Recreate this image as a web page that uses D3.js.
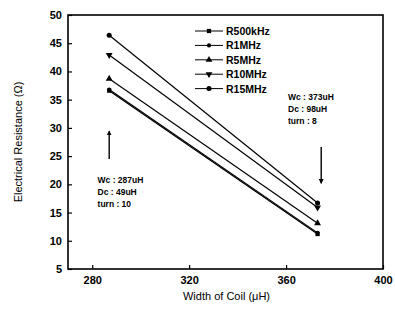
<!DOCTYPE html>
<html>
<head>
<meta charset="utf-8">
<script src="https://cdn.jsdelivr.net/npm/d3@7"></script>
<style>
  body { margin: 0; background: #fff; }
  text { font-family: "Liberation Sans", Arial, sans-serif; fill: #000; }
  .narrow { font-family: "Liberation Sans Narrow", "Arial Narrow", "Liberation Sans", sans-serif; }
</style>
</head>
<body>
<div id="chart"></div>
<script>
// coil widths (uH) and resistance per frequency (ohm)
const widths = [287, 373];
const seriesNames = ['R500kHz', 'R1MHz', 'R5MHz', 'R10MHz', 'R15MHz'];
const r500k = [36.6, 11.2];
const r1M = [36.8, 11.4];
const r5M = [38.7, 13.1];
const r10M = [42.9, 15.9];
const r15M = [46.4, 16.7];
const markers = ['square', 'circle', 'triangle', 'triangleDown', 'circleBig'];
const xTicks = [280, 320, 360, 400];
const yTicks = [5, 10, 15, 20, 25, 30, 35, 40, 45, 50];
const noteLeft = ['Wc : 287uH', 'Dc : 49uH', 'turn : 10'];
const noteRight = ['Wc : 373uH', 'Dc : 98uH', 'turn : 8'];

const W = 395, H = 311;
const m = {l: 68, r: 12, t: 15, b: 42};

const svg = d3.select('#chart').append('svg')
    .attr('width', W).attr('height', H);

const x = d3.scaleLinear().domain([270, 400]).range([m.l, W - m.r]);
const y = d3.scaleLinear().domain([5, 50]).range([H - m.b, m.t]);

const g = svg.append('g');

// frame
g.append('rect')
    .attr('x', m.l).attr('y', m.t)
    .attr('width', W - m.r - m.l).attr('height', H - m.b - m.t)
    .attr('fill', 'none').attr('stroke', '#000').attr('stroke-width', 1.6);

// axes with inward ticks
const xAxis = g.append('g').attr('transform', `translate(0,${H - m.b})`)
    .call(d3.axisBottom(x).tickValues(xTicks).tickSizeInner(-4).tickSizeOuter(0).tickPadding(7));
const yAxis = g.append('g').attr('transform', `translate(${m.l},0)`)
    .call(d3.axisLeft(y).tickValues(yTicks).tickSizeInner(-4).tickSizeOuter(0).tickPadding(6));
[xAxis, yAxis].forEach(a => {
    a.select('.domain').remove();
    a.selectAll('line').attr('stroke', '#000').attr('stroke-width', 1.2);
    a.selectAll('text').attr('class', 'narrow').style('font-size', '11px').style('font-weight', 'bold')
        .attr('fill', '#000');
});

// axis titles
svg.append('text')
    .attr('transform', `translate(22,${(m.t + H - m.b) / 2}) rotate(-90)`)
    .attr('text-anchor', 'middle').style('font-size', '11px')
    .text('Electrical Resistance (Ω)');
svg.append('text')
    .attr('x', (m.l + W - m.r) / 2 + 1).attr('y', 300)
    .attr('text-anchor', 'middle').style('font-size', '11px')
    .text('Width of Coil (μH)');

const series = [r500k, r1M, r5M, r10M, r15M].map((v, i) => ({
    name: seriesNames[i], marker: markers[i],
    pts: widths.map((w, j) => ({w: w, r: v[j]}))
}));

const symbolOf = {
    square: d3.symbol().type(d3.symbolSquare).size(18),
    circle: d3.symbol().type(d3.symbolCircle).size(14),
    triangle: d3.symbol().type(d3.symbolTriangle).size(20),
    triangleDown: d3.symbol().type(d3.symbolTriangle).size(20),
    circleBig: d3.symbol().type(d3.symbolCircle).size(20)
};
function drawMarker(sel, mk) {
    sel.append('path')
        .attr('d', symbolOf[mk]())
        .attr('transform', mk === 'triangleDown' ? 'rotate(180)' : null)
        .attr('fill', '#000');
}

const line = d3.line().x(d => x(d.w)).y(d => y(d.r));

series.forEach(s => {
    g.append('path').datum(s.pts)
        .attr('d', line).attr('fill', 'none')
        .attr('stroke', '#000').attr('stroke-width', 1.2);
    s.pts.forEach(p => {
        const mg = g.append('g').attr('transform', `translate(${x(p.w)},${y(p.r)})`);
        drawMarker(mg, s.marker);
    });
});

// legend
const leg = svg.append('g').attr('transform', 'translate(195,31)');
series.forEach((s, i) => {
    const row = leg.append('g').attr('transform', `translate(0,${i * 14.4})`);
    row.append('line').attr('x1', 0).attr('x2', 28).attr('y1', 0).attr('y2', 0)
        .attr('stroke', '#000').attr('stroke-width', 1);
    drawMarker(row.append('g').attr('transform', 'translate(14,0)'), s.marker);
    row.append('text').attr('class', 'narrow').attr('x', 31).attr('y', 4)
        .style('font-size', '10.5px').style('font-weight', 'bold')
        .text(s.name);
});

// arrows
svg.append('defs').append('marker')
    .attr('id', 'ah').attr('viewBox', '0 0 6 6').attr('refX', 5).attr('refY', 3)
    .attr('markerWidth', 3.5).attr('markerHeight', 3.5).attr('orient', 'auto')
    .append('path').attr('d', 'M0,0 L6,3 L0,6 Z').attr('fill', '#000');

g.append('line')
    .attr('x1', x(287)).attr('x2', x(287)).attr('y1', y(24.5)).attr('y2', y(29.4))
    .attr('stroke', '#000').attr('stroke-width', 1.4).attr('marker-end', 'url(#ah)');
g.append('line')
    .attr('x1', x(374.5)).attr('x2', x(374.5)).attr('y1', y(26.6)).attr('y2', y(20.2))
    .attr('stroke', '#000').attr('stroke-width', 1.4).attr('marker-end', 'url(#ah)');

// annotations
function note(lines, px, py) {
    lines.forEach((t, i) => {
        svg.append('text').attr('class', 'narrow').attr('x', px).attr('y', py + i * 12)
            .style('font-size', '8.5px').style('font-weight', 'bold')
            .text(t);
    });
}
note(noteLeft, x(282.2), 183);
note(noteRight, x(360.8), 100);
</script>
</body>
</html>
